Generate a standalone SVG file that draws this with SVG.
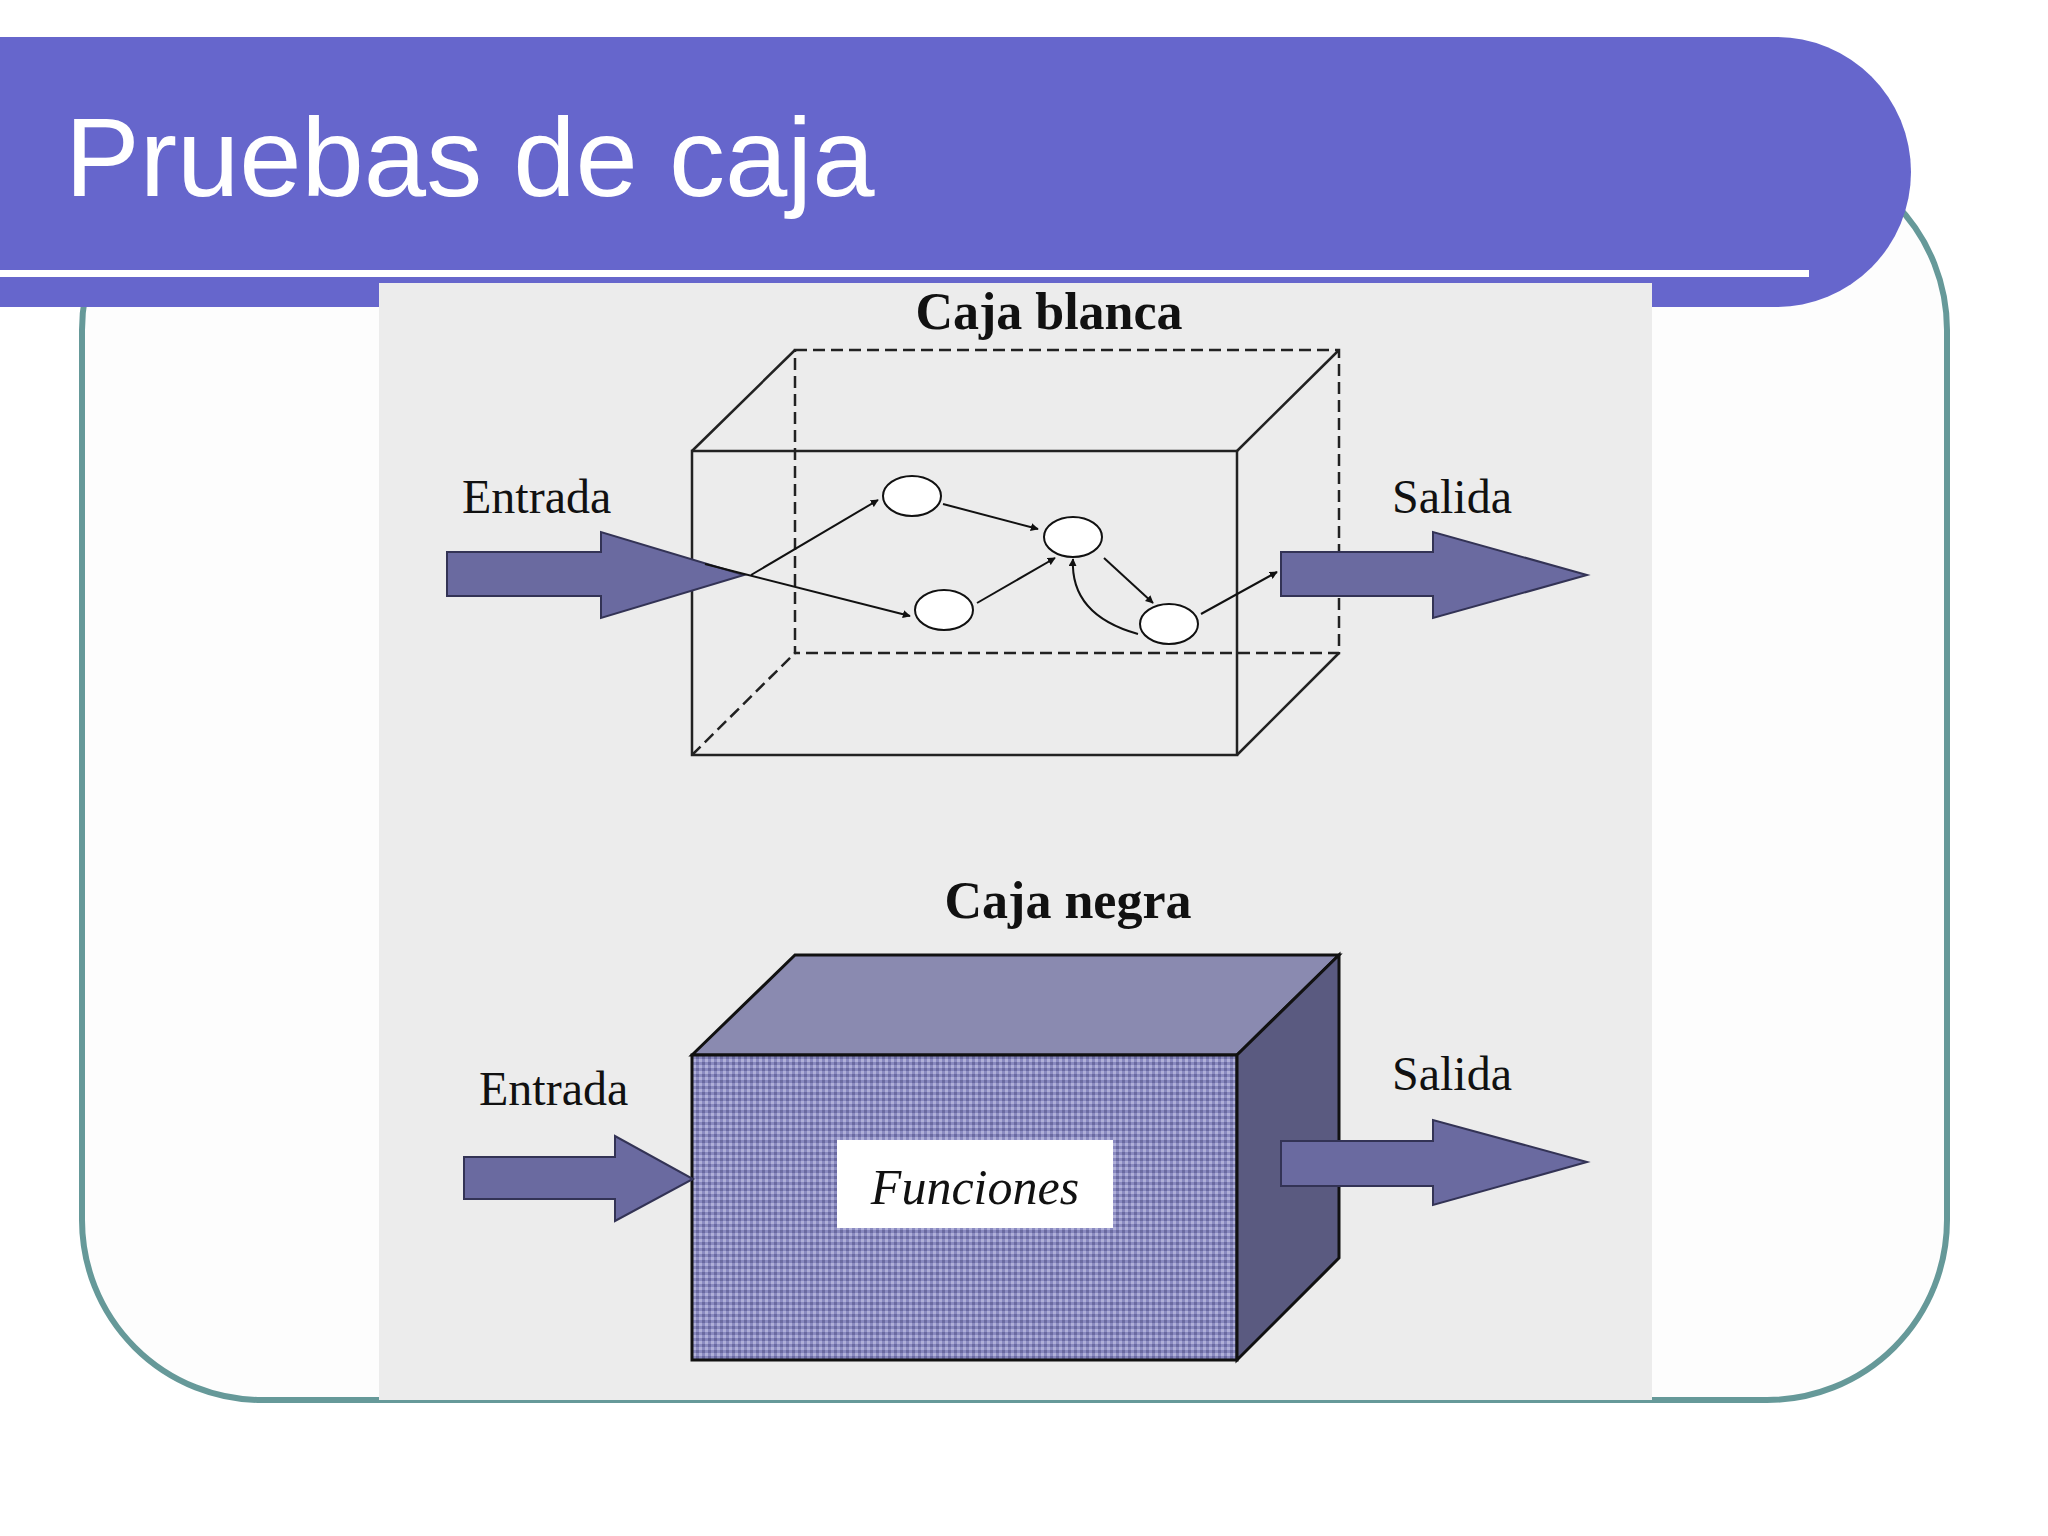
<svg xmlns="http://www.w3.org/2000/svg" width="2048" height="1536" viewBox="0 0 2048 1536">
<style>
.lbl{font-family:"Liberation Serif",serif;font-size:48px;fill:#111}
.ttl{font-family:"Liberation Serif",serif;font-size:52px;font-weight:bold;fill:#111}
.fat{fill:#6a6aa0;stroke:#333355;stroke-width:2}
.e{stroke:#111;stroke-width:2;fill:none;marker-end:url(#ah)}
.nd{fill:#fff;stroke:#111;stroke-width:2}
</style>
<defs>
<marker id="ah" viewBox="0 0 10 10" refX="9" refY="5" markerWidth="8" markerHeight="8" orient="auto" markerUnits="userSpaceOnUse"><path d="M0,0L10,5L0,10z" fill="#111"/></marker>
<pattern id="dots" width="6" height="6" patternUnits="userSpaceOnUse"><rect width="6" height="6" fill="#8a8ac0"/><rect width="3" height="3" fill="#6a6aa0"/><rect x="3" y="3" width="3" height="3" fill="#b0b0d8"/></pattern>
</defs>
<rect width="2048" height="1536" fill="#fff"/>
<rect x="82" y="150" width="1865" height="1250" rx="180" fill="#fdfdfd" stroke="#669999" stroke-width="6"/>
<path d="M0,37H1776A135,135 0 0 1 1911,172A135,135 0 0 1 1776,307H0Z" fill="#6666cc"/>
<rect x="0" y="270" width="1809" height="7" fill="#fff"/>
<text x="65" y="196" font-family="Liberation Sans,Arial,sans-serif" font-size="112" fill="#fff">Pruebas de caja</text>
<rect x="379" y="283" width="1273" height="1117" fill="#ececec"/>
<g id="white-box">
<text class="ttl" x="1049" y="329" text-anchor="middle">Caja blanca</text>
<rect x="795" y="350" width="544" height="303" fill="none" stroke="#222" stroke-width="2.5" stroke-dasharray="12,6"/>
<line x1="692" y1="755" x2="795" y2="653" stroke="#222" stroke-width="2.5" stroke-dasharray="12,6"/>
<rect x="692" y="451" width="545" height="304" fill="none" stroke="#222" stroke-width="2.5"/>
<path d="M692,451L795,350M1237,451L1339,350M1237,755L1339,653" stroke="#222" stroke-width="2.5"/>
<text class="lbl" x="462" y="513">Entrada</text>
<text class="lbl" x="1392" y="513">Salida</text>
<path class="fat" d="M447,552H601V532L744,575L601,618V596H447Z"/>
<path class="fat" d="M1281,552H1433V532L1587,575L1433,618V596H1281Z"/>
</g>
<g id="connectors">
<line class="e" x1="751" y1="575" x2="878" y2="500"/>
<line class="e" x1="705" y1="564" x2="910" y2="616"/>
<line class="e" x1="943" y1="504" x2="1038" y2="529"/>
<line class="e" x1="977" y1="603" x2="1055" y2="558"/>
<line class="e" x1="1104" y1="558" x2="1153" y2="603"/>
<path class="e" d="M1138,634Q1070,615 1073,559"/>
<line class="e" x1="1201" y1="614" x2="1277" y2="572"/>
</g>
<g id="nodes">
<ellipse class="nd" cx="912" cy="496" rx="29" ry="20"/>
<ellipse class="nd" cx="1073" cy="537" rx="29" ry="20"/>
<ellipse class="nd" cx="944" cy="610" rx="29" ry="20"/>
<ellipse class="nd" cx="1169" cy="624" rx="29" ry="20"/>
</g>
<g id="black-box">
<text class="ttl" x="1068" y="918" text-anchor="middle">Caja negra</text>
<polygon points="692,1055 795,955 1339,955 1237,1055" fill="#8a8ab0" stroke="#111" stroke-width="3"/>
<rect x="692" y="1055" width="545" height="305" fill="url(#dots)" stroke="#111" stroke-width="3"/>
<polygon points="1237,1055 1339,955 1339,1258 1237,1360" fill="#5a5a80" stroke="#111" stroke-width="3"/>
<rect x="837" y="1140" width="276" height="88" fill="#fff"/>
<text x="975" y="1204" text-anchor="middle" font-family="Liberation Serif,serif" font-style="italic" font-size="50" fill="#111">Funciones</text>
<text class="lbl" x="479" y="1105">Entrada</text>
<text class="lbl" x="1392" y="1090">Salida</text>
<path class="fat" d="M464,1157H615V1136L693,1179L615,1221V1199H464Z"/>
<path class="fat" d="M1281,1141H1433V1120L1587,1162L1433,1205V1186H1281Z"/>
</g>
</svg>
